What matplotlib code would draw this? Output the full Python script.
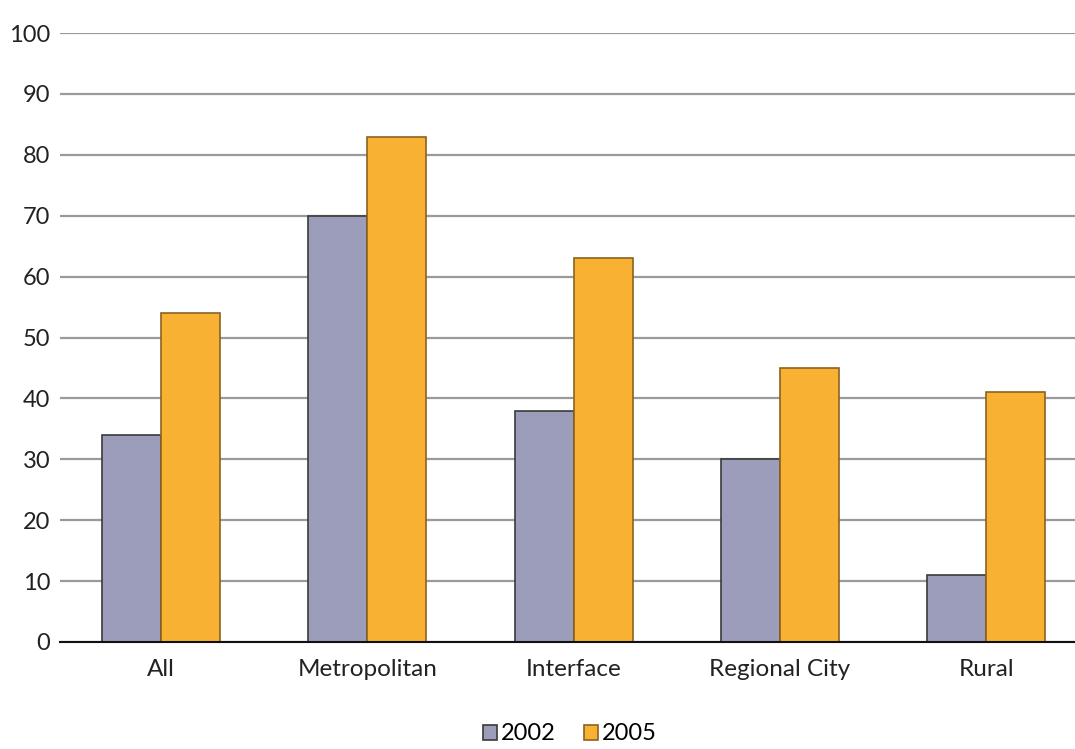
import matplotlib
matplotlib.use("Agg")
import matplotlib.pyplot as plt
import numpy as np
from matplotlib.patches import Patch

categories = ["All", "Metropolitan", "Interface", "Regional City", "Rural"]
series_names = ["2002", "2005"]
values_2002 = [34, 70, 38, 30, 11]
values_2005 = [54, 83, 63, 45, 41]
yticks = [0, 10, 20, 30, 40, 50, 60, 70, 80, 90, 100]

c2002 = "#9B9DBB"
c2005 = "#F8B133"
e2002 = "#3a3a3a"
e2005 = "#8a6420"

plt.rcParams['font.family'] = ['Lato', 'DejaVu Sans']

fig = plt.figure(figsize=(10.75, 7.49), dpi=100)
ax = fig.add_axes([60/1075, 107/749, 1 - 60/1075, (642-33)/749])

x = np.arange(len(categories))
w = 0.286
ax.bar(x - w/2, values_2002, width=w, color=c2002, edgecolor=e2002, linewidth=1.2, zorder=3)
ax.bar(x + w/2, values_2005, width=w, color=c2005, edgecolor=e2005, linewidth=1.2, zorder=3)

ax.set_xlim(-0.49, 4.43)
ax.set_ylim(0, 100)
ax.set_yticks(yticks)
ax.set_yticklabels([str(t) for t in yticks], fontsize=17, color='#222222')
ax.set_xticks(x)
ax.set_xticklabels(categories, fontsize=17.5, color='#222222')
ax.tick_params(axis='y', length=0, pad=7)
ax.tick_params(axis='x', length=0, pad=12)
ax.yaxis.grid(True, color='#9a9a9a', linewidth=1.6, zorder=0)
ax.set_axisbelow(True)
for s in ['left', 'right', 'top']:
    ax.spines[s].set_visible(False)
ax.spines['bottom'].set_color('#111111')
ax.spines['bottom'].set_linewidth(1.5)
ax.spines['bottom'].set_zorder(4)

handles = [Patch(facecolor=c2002, edgecolor=e2002, linewidth=1.2, label=series_names[0]),
           Patch(facecolor=c2005, edgecolor=e2005, linewidth=1.2, label=series_names[1])]
fig.legend(handles=handles, loc='center', bbox_to_anchor=(570/1075, 1 - 734/749), ncol=2,
           frameon=False, handlelength=0.6, handleheight=0.6,
           handletextpad=0.15, columnspacing=1.2, prop={'size': 17})

fig.savefig("out.png", dpi=100)
